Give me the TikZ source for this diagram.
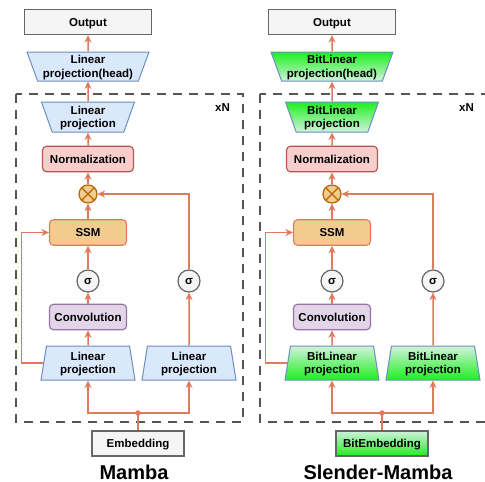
\documentclass[tikz,border=0pt]{standalone}
\usepackage{fontspec}
\setmainfont{Liberation Sans}
\usetikzlibrary{shapes.geometric,arrows.meta,calc}
\definecolor{arrc}{HTML}{E07A5F}
\definecolor{grayfill}{HTML}{F5F5F5}
\definecolor{grayline}{HTML}{666666}
\definecolor{bluefillc}{HTML}{DAE8FC}
\definecolor{bluedraw}{HTML}{6C8EBF}
\definecolor{normfill}{HTML}{F8CECC}
\definecolor{normdraw}{HTML}{B85450}
\definecolor{convfill}{HTML}{E1D5E7}
\definecolor{convdraw}{HTML}{9673A6}
\definecolor{ssmfill}{HTML}{F2CC8F}
\definecolor{muldraw}{HTML}{B46504}
\definecolor{gbright}{HTML}{1EF01E}
\definecolor{glight}{HTML}{D0F2DC}
\definecolor{dashc}{HTML}{555555}
\newcommand\nodp[1]{\raisebox{0pt}[\height][0pt]{#1}}
\begin{document}
\begin{tikzpicture}[x=1pt,y=1pt,
  every node/.style={font=\bfseries\fontsize{11.5}{13.5}\selectfont, inner sep=0pt, align=center},
  oneline/.style={text height=8.2pt, text depth=0pt},
  conn/.style={draw=arrc, line width=1.5pt},
  arrow/.style={conn, -{Stealth[length=7.5pt,width=7pt]}},
  graybox/.style={oneline, draw=grayline, fill=grayfill, line width=1.3pt, minimum width=#1, minimum height=25pt},
  greenbox/.style={oneline, draw=grayline, top color=glight, bottom color=gbright, line width=1.3pt, minimum width=#1, minimum height=25pt},
  trapup/.style={shape=trapezium, trapezium stretches body, trapezium angle=76, minimum width=94pt, minimum height=34pt, line width=1pt},
  trapdn/.style={shape=trapezium, trapezium stretches body, shape border rotate=180, trapezium angle=64, line width=1pt},
  bluefill/.style={draw=bluedraw, fill=bluefillc},
  greenup/.style={draw=bluedraw, top color=glight, bottom color=gbright},
  greendn/.style={draw=bluedraw, top color=gbright, bottom color=glight},
  rbox/.style={oneline, rounded corners=4pt, minimum width=77pt, minimum height=25.5pt, line width=1.1pt},
  normc/.style={draw=normdraw, fill=normfill},
  convc/.style={draw=convdraw, fill=convfill},
  ssmc/.style={draw=arrc, fill=ssmfill},
  mulc/.style={circle, draw=muldraw, fill=ssmfill, line width=1.2pt, minimum size=18pt},
  mulline/.style={draw=muldraw, line width=1.2pt},
  sig/.style={circle, draw=grayline, fill=grayfill, line width=1.2pt, minimum size=22pt, text height=6pt, text depth=0pt},
  dotn/.style={circle, fill=arrc, minimum size=5.5pt},
  dashbox/.style={draw=dashc, line width=1.3pt, dash pattern=on 9pt off 7pt},
  titlen/.style={font=\bfseries\fontsize{20}{24}\selectfont},
  xn/.style={font=\bfseries\fontsize{11.5}{14}\selectfont}
]
\useasboundingbox (0,0) rectangle (485,-482);

% ================= Left: Mamba =================
\draw[dashbox] (16,-94) rectangle (243,-422);
\node[graybox=127pt] (Lout) at (88,-22) {Output};
\node[trapdn, bluefill, minimum width=122pt, minimum height=29pt] (Lhead) at (88,-66.5) {Linear\\\nodp{projection(head)}};
\node[trapdn, bluefill, minimum width=93pt, minimum height=30pt] (Llp) at (88,-117) {Linear\\\nodp{projection}};
\node[rbox, normc, minimum width=91pt] (Lnorm) at (88,-159) {Normalization};
\node[mulc] (Lmul) at (88,-194) {};
\draw[mulline] (Lmul.north east) -- (Lmul.south west) (Lmul.north west) -- (Lmul.south east);
\node[rbox, ssmc] (Lssm) at (88,-232.5) {SSM};
\node[sig] (Ls1) at (88,-281) {σ};
\node[rbox, convc] (Lconv) at (88,-317) {Convolution};
\node[trapup, bluefill] (Llpa) at (88,-363) {Linear\\\nodp{projection}};
\node[trapup, bluefill] (Llpb) at (189,-363) {Linear\\\nodp{projection}};
\node[sig] (Ls2) at (189,-281) {σ};
\node[dotn] (Ldot) at (138,-413) {};
\node[graybox=92pt] (Lemb) at (138,-443.5) {Embedding};
\node[titlen] (Ltitle) at (134,-472) {Mamba};
\node[xn] (Lxn) at (222.5,-108) {xN};

\draw[arrow] (Lhead.north) -- (Lout.south);
\draw[arrow] (Llp.north) -- (Lhead.south);
\draw[arrow] (Lnorm.north) -- (Llp.south);
\draw[arrow] (Lmul.north) -- (Lnorm.south);
\draw[arrow] (Lssm.north) -- (Lmul.south);
\draw[arrow] (Ls1.north) -- (Lssm.south);
\draw[arrow] (Lconv.north) -- (Ls1.south);
\draw[arrow] (Llpa.north) -- (Lconv.south);
\draw[arrow] (Llpb.north) -- (Ls2.south);
\draw[arrow] (Ls2.north) |- (Lmul.east);
\draw[arrow] (Llpa.west) -- ++(-21.5,0) |- (Lssm.west);
\draw[conn] (Lemb.north) -- (Ldot.center);
\draw[arrow] (Ldot.center) -| (Llpa.south);
\draw[arrow] (Ldot.center) -| (Llpb.south);

% ================= Right: Slender-Mamba =================
\draw[dashbox] (260,-94) rectangle (487,-422);
\node[graybox=127pt] (Rout) at (332,-22) {Output};
\node[trapdn, greendn, minimum width=122pt, minimum height=29pt] (Rhead) at (332,-66.5) {BitLinear\\\nodp{projection(head)}};
\node[trapdn, greendn, minimum width=93pt, minimum height=30pt] (Rlp) at (332,-117) {BitLinear\\\nodp{projection}};
\node[rbox, normc, minimum width=91pt] (Rnorm) at (332,-159) {Normalization};
\node[mulc] (Rmul) at (332,-194) {};
\draw[mulline] (Rmul.north east) -- (Rmul.south west) (Rmul.north west) -- (Rmul.south east);
\node[rbox, ssmc] (Rssm) at (332,-232.5) {SSM};
\node[sig] (Rs1) at (332,-281) {σ};
\node[rbox, convc] (Rconv) at (332,-317) {Convolution};
\node[trapup, greenup] (Rlpa) at (332,-363) {BitLinear\\\nodp{projection}};
\node[trapup, greenup] (Rlpb) at (433,-363) {BitLinear\\\nodp{projection}};
\node[sig] (Rs2) at (433,-281) {σ};
\node[dotn] (Rdot) at (382,-413) {};
\node[greenbox=92pt] (Remb) at (382,-443.5) {BitEmbedding};
\node[titlen] (Rtitle) at (378,-472) {Slender-Mamba};
\node[xn] (Rxn) at (466.5,-108) {xN};

\draw[arrow] (Rhead.north) -- (Rout.south);
\draw[arrow] (Rlp.north) -- (Rhead.south);
\draw[arrow] (Rnorm.north) -- (Rlp.south);
\draw[arrow] (Rmul.north) -- (Rnorm.south);
\draw[arrow] (Rssm.north) -- (Rmul.south);
\draw[arrow] (Rs1.north) -- (Rssm.south);
\draw[arrow] (Rconv.north) -- (Rs1.south);
\draw[arrow] (Rlpa.north) -- (Rconv.south);
\draw[arrow] (Rlpb.north) -- (Rs2.south);
\draw[arrow] (Rs2.north) |- (Rmul.east);
\draw[arrow] (Rlpa.west) -- ++(-21.5,0) |- (Rssm.west);
\draw[conn] (Remb.north) -- (Rdot.center);
\draw[arrow] (Rdot.center) -| (Rlpa.south);
\draw[arrow] (Rdot.center) -| (Rlpb.south);
\end{tikzpicture}
\end{document}
